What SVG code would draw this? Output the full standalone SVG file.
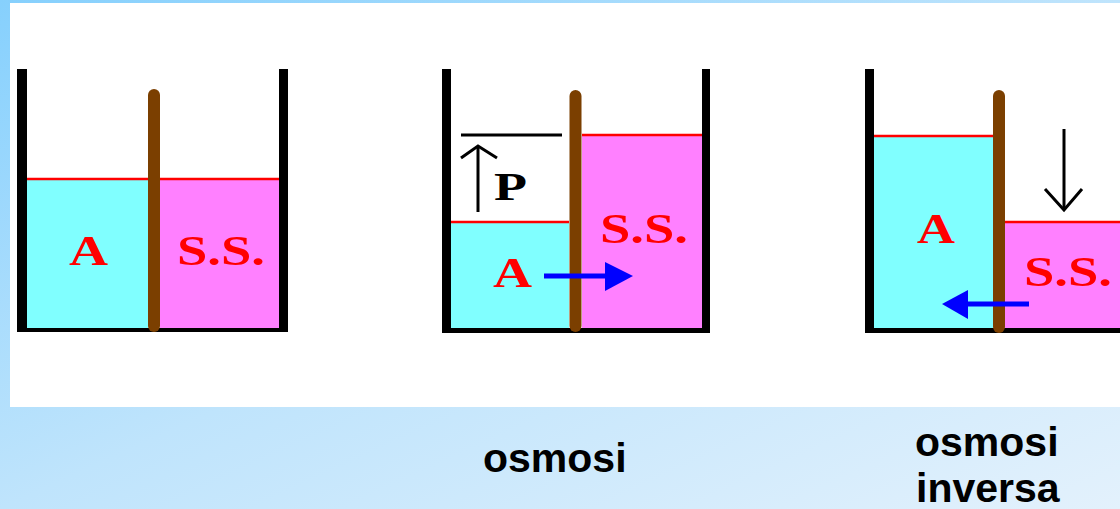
<svg xmlns="http://www.w3.org/2000/svg" width="1120" height="509" viewBox="0 0 1120 509">
<defs>
<linearGradient id="bg" x1="0" y1="0" x2="1" y2="1">
<stop offset="0" stop-color="#86d0fd"/>
<stop offset="0.5" stop-color="#bfe4fc"/>
<stop offset="1" stop-color="#e3f1fc"/>
</linearGradient>
<style>
.wall{fill:#000}
.water{fill:#80ffff}
.sol{fill:#ff80ff}
.lvl{stroke:#ff0000;stroke-width:2.5}
.mem{stroke:#7b3f00;stroke-width:12;stroke-linecap:round}
.lab{font-family:"Liberation Serif",serif;font-weight:bold;font-size:43px;fill:#ff0000}
.blk{stroke:#000;stroke-width:3;fill:none}
.blue{stroke:#0000ff;stroke-width:5}
.cap{font-family:"Liberation Sans",Arial,sans-serif;font-weight:bold;font-size:41px;fill:#000}
</style>
</defs>
<rect x="0" y="0" width="1120" height="509" fill="url(#bg)"/>
<rect x="10" y="3" width="1110" height="404" fill="#ffffff"/>

<g id="beaker1">
<rect class="water" x="27" y="179" width="121" height="150"/>
<rect class="sol" x="160" y="179" width="119" height="150"/>
<line class="lvl" x1="22" y1="179" x2="279" y2="179"/>
<rect class="wall" x="17" y="69" width="10" height="263"/>
<rect class="wall" x="279" y="69" width="9" height="263"/>
<rect class="wall" x="17" y="328" width="271" height="4"/>
<line class="mem" x1="154" y1="95" x2="154" y2="326"/>
<text class="lab" x="69" y="265" textLength="39" lengthAdjust="spacingAndGlyphs">A</text>
<text class="lab" x="177" y="265" textLength="88" lengthAdjust="spacingAndGlyphs">S.S.</text>
</g>

<g id="beaker2">
<rect class="water" x="451" y="222" width="118" height="107"/>
<rect class="sol" x="582" y="135" width="121" height="194"/>
<line class="lvl" x1="443" y1="222" x2="569" y2="222"/>
<line class="lvl" x1="582" y1="135" x2="703" y2="135"/>
<rect class="wall" x="442" y="69" width="9" height="264"/>
<rect class="wall" x="702" y="69" width="8" height="264"/>
<rect class="wall" x="442" y="328" width="268" height="5"/>
<line class="mem" x1="575.5" y1="96" x2="575.5" y2="326"/>
<line class="blk" x1="461" y1="135" x2="562" y2="135"/>
<line class="blk" x1="478" y1="147" x2="478" y2="212"/>
<polyline class="blk" points="461,158 478,146 497,158"/>
<text x="494" y="200" font-family="Liberation Serif,serif" font-weight="bold" font-size="41" fill="#000" textLength="33" lengthAdjust="spacingAndGlyphs">P</text>
<text class="lab" x="600" y="243" textLength="88" lengthAdjust="spacingAndGlyphs">S.S.</text>
<text class="lab" x="493" y="287" textLength="39" lengthAdjust="spacingAndGlyphs">A</text>
<line class="blue" x1="544" y1="276" x2="607" y2="276"/>
<polygon points="605,262 633,276 605,291" fill="#0000ff"/>
</g>

<g id="beaker3">
<rect class="water" x="874" y="136" width="119" height="193"/>
<rect class="sol" x="1005" y="222" width="115" height="107"/>
<line class="lvl" x1="867" y1="136" x2="993" y2="136"/>
<line class="lvl" x1="1005" y1="222" x2="1120" y2="222"/>
<rect class="wall" x="865" y="69" width="9" height="264"/>
<rect class="wall" x="865" y="328" width="255" height="5"/>
<line class="mem" x1="999" y1="96" x2="999" y2="327"/>
<line class="blk" x1="1064" y1="129" x2="1064" y2="210"/>
<polyline class="blk" points="1045,189 1064,210 1082,189"/>
<text class="lab" x="917" y="243" textLength="38" lengthAdjust="spacingAndGlyphs">A</text>
<text class="lab" x="1024" y="286" textLength="88" lengthAdjust="spacingAndGlyphs">S.S.</text>
<line class="blue" x1="1029" y1="304" x2="966" y2="304"/>
<polygon points="968,290 942,304 968,319" fill="#0000ff"/>
</g>

<g id="captions">
<text class="cap" x="483" y="472">osmosi</text>
<text class="cap" x="915" y="456">osmosi</text>
<text class="cap" x="916" y="502">inversa</text>
</g>
</svg>
